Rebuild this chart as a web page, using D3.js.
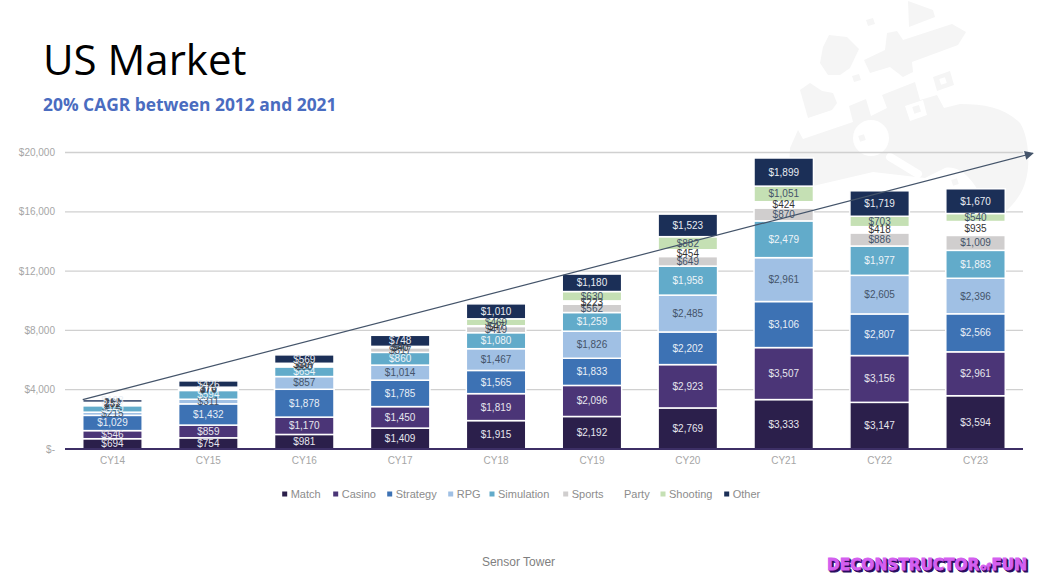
<!DOCTYPE html>
<html><head><meta charset="utf-8">
<script src="https://cdn.jsdelivr.net/npm/d3@7/dist/d3.min.js"></script>
<style>html,body{margin:0;padding:0;background:#fff}svg{display:block}</style>
</head><body><svg id="c" width="1040" height="583"></svg>
<script>
const categories=["CY14","CY15","CY16","CY17","CY18","CY19","CY20","CY21","CY22","CY23"];
const seriesNames=["Match","Casino","Strategy","RPG","Simulation","Sports","Party","Shooting","Other"];
const match=[694,754,981,1409,1915,2192,2769,3333,3147,3594];
const casino=[546,859,1170,1450,1819,2096,2923,3507,3156,2961];
const strategy=[1029,1432,1878,1785,1565,1833,2202,3106,2807,2566];
const rpg=[215,311,857,1014,1467,1826,2485,2961,2605,2396];
const simulation=[440,594,654,860,1080,1259,1958,2479,1977,1883];
const sports=[72,76,80,317,419,562,649,870,886,1009];
const party=[82,70,107,40,47,223,454,424,418,935];
const shooting=[69,73,54,47,469,630,882,1051,703,540];
const other=[193,426,569,748,1010,1180,1523,1899,1719,1670];
const tickValues=[0,4000,8000,12000,16000,20000];
const tickLabels=["$-","$4,000","$8,000","$12,000","$16,000","$20,000"];
const trendValues=[3330,19950];
const seriesValues=[match,casino,strategy,rpg,simulation,sports,party,shooting,other];
const colors=["#2b1f4b","#4b3577","#3d72b4","#a0c0e4","#62abca","#d0cece","#ffffff","#c5e0b4","#1b2f57"];
const labelColors=["#e6e6ee","#e6e6ee","#e8eef6","#44546a","#eef4f8","#44546a","#333333","#44546a","#e8ecf2"];

const svg=d3.select("#c");
const font="'Liberation Sans',Arial,sans-serif";
const wmGrey="#f5f5f5";
const wm=svg.append("g").attr("fill",wmGrey);
[
"M908,1 L933,10 L935,17 L909,27 Z",
"M829,35 L847,37 L859,49 L850,68 L840,75 L828,75 L820,63 L823,47 Z",
"M887,33 L897,31 L903,40 L952,24 L966,32 L958,45 L912,62 L913,72 L903,77 L890,67 L870,73 L864,60 L885,50 Z",
"M866,20 L873,18 L875,24 L868,26 Z",
"M852,76 L859,74 L861,80 L854,82 Z",
"M800,90 L810,83 L822,91 L833,93 L837,103 L832,110 L808,118 Z",
"M933,77 L950,71 L954,85 L937,91 Z",
"M790,148 L798,130 L803,139 L853,122 L849,106 L866,99 L871,116 L887,108 L882,95 L915,82 L920,100 L937,95 L944,108 L960,104 C985,104 1005,108 1020,123 C1028,135 1030,160 1027,175 C1024,192 1015,203 1005,212 L985,205 C975,180 960,165 945,168 L925,178 L873,172 L813,186 L788,186 Z"
].forEach(d=>wm.append("path").attr("d",d));
wm.append("rect").attr("x",940).attr("y",78).attr("width",6).attr("height",6).attr("fill","#fff").attr("transform","rotate(-18 943 81)");
wm.append("path").attr("d","M905,106 L923,100 L927,115 L910,121 Z").attr("fill","#fff");
wm.append("rect").attr("x",913).attr("y",106).attr("width",7).attr("height",7).attr("transform","rotate(-18 916 109)");
wm.append("circle").attr("cx",871).attr("cy",138).attr("r",18).attr("fill","#fff");
wm.append("rect").attr("x",859).attr("y",135).attr("width",6).attr("height",6).attr("transform","rotate(-18 862 138)");
wm.append("line").attr("x1",890).attr("y1",157).attr("x2",918).attr("y2",174).attr("stroke","#fff").attr("stroke-width",8).attr("stroke-linecap","round");
wm.append("rect").attr("x",952).attr("y",179).attr("width",6).attr("height",6).attr("transform","rotate(-18 955 182)");

const x=d3.scaleBand().domain(categories).range([65,1023]).paddingInner(0.38).paddingOuter(0.185);
const y=d3.scaleLinear().domain([0,20000]).range([449,152.5]);

// gridlines
svg.append("g").selectAll("line").data(tickValues.slice(1)).join("line")
 .attr("x1",65).attr("x2",1023).attr("y1",d=>y(d)).attr("y2",d=>y(d))
 .attr("stroke","#d0d0d0").attr("stroke-width",1.3);

// tick labels
svg.append("g").selectAll("text").data(tickValues).join("text")
 .attr("x",55).attr("y",d=>y(d)+3.5).attr("text-anchor","end")
 .attr("font-family",font).attr("font-size",10).attr("fill","#a6a6a6")
 .text((d,i)=>tickLabels[i]);
svg.append("g").selectAll("text").data(categories).join("text")
 .attr("x",d=>x(d)+x.bandwidth()/2).attr("y",464).attr("text-anchor","middle")
 .attr("font-family",font).attr("font-size",10).attr("fill","#a6a6a6").text(d=>d);

// stacks
const rows=categories.map((c,i)=>{const r={cat:c};seriesNames.forEach((s,k)=>r[s]=seriesValues[k][i]);return r;});
const stack=d3.stack().keys(seriesNames)(rows);
const layers=svg.append("g").selectAll("g").data(stack).join("g");
layers.selectAll("rect").data(d=>d).join("rect")
 .attr("x",d=>x(d.data.cat)).attr("width",x.bandwidth())
 .attr("y",d=>y(d[1])).attr("height",d=>y(d[0])-y(d[1]))
 .attr("fill",function(){return colors[seriesNames.indexOf(d3.select(this.parentNode).datum().key)];})
 .attr("stroke","#fff").attr("stroke-width",1.5);

// baseline
svg.append("line").attr("x1",65).attr("x2",1023).attr("y1",y(0)).attr("y2",y(0))
 .attr("stroke","#3d2f66").attr("stroke-width",2);

// value labels
stack.forEach((l,k)=>{
 svg.append("g").selectAll("text").data(l).join("text")
  .attr("x",d=>x(d.data.cat)+x.bandwidth()/2).attr("y",d=>(y(d[0])+y(d[1]))/2+3.5)
  .attr("text-anchor","middle").attr("font-family",font).attr("font-size",10)
  .attr("fill",labelColors[k]).text(d=>"$"+d3.format(",")(d[1]-d[0]));
});

// CAGR trend arrow
const tx=d3.scaleLinear().domain([0,1]).range([x(categories[0]),1033]);
const lg=d3.line().x((d,i)=>tx(i)).y(d=>y(d));
const defs=svg.append("defs");
defs.append("marker").attr("id","ah").attr("viewBox","0 0 10 10").attr("refX",9).attr("refY",5)
 .attr("markerWidth",11).attr("markerHeight",9).attr("markerUnits","userSpaceOnUse").attr("orient","auto")
 .append("path").attr("d","M0,0 L10,5 L0,10 Z").attr("fill","#44546a");
svg.append("path").attr("d",lg(trendValues)).attr("fill","none").attr("stroke","#44546a")
 .attr("stroke-width",1.2).attr("marker-end","url(#ah)");

// legend
const legendTextX=[290.7,341.7,395.7,456.7,498,571.7,624,669,732.7];
const leg=svg.append("g").selectAll("g").data(seriesNames).join("g");
leg.append("rect").attr("x",(d,i)=>legendTextX[i]-8.5).attr("y",491.5).attr("width",5).attr("height",5)
 .attr("fill",(d,i)=>colors[i]);
leg.append("text").attr("x",(d,i)=>legendTextX[i]).attr("y",498.3).attr("font-family",font)
 .attr("font-size",11).attr("fill","#8c8c8c").text(d=>d);

// titles
svg.append("text").attr("x",43).attr("y",75).attr("font-family","'Open Sans',sans-serif").attr("font-size",42).attr("fill","#000").text("US Market");
svg.append("text").attr("x",43).attr("y",111).attr("font-family","'Open Sans',sans-serif").attr("font-weight",700).attr("font-size",17.4).attr("fill","#4a6cc0").text("20% CAGR between 2012 and 2021");
svg.append("text").attr("x",518.5).attr("y",566).attr("text-anchor","middle").attr("font-family",font).attr("font-size",12).attr("fill","#7f7f7f").text("Sensor Tower");

// logo
const logo=svg.append("g").attr("font-family","'DejaVu Sans',sans-serif").attr("font-weight",700);
[[2,2,"#2a0a5e"],[1,1,"#2a0a5e"],[0,0,"#d45ff0"]].forEach(([dx,dy,col])=>{
 const t=logo.append("text").attr("x",827+dx).attr("y",570+dy).attr("fill",col).attr("stroke",col).attr("stroke-width",0.8).attr("font-size",15.3);
 t.append("tspan").text("DECONSTRUCTOR");
 t.append("tspan").attr("font-size",9).attr("dx",1).text("of");
 t.append("tspan").attr("dx",1).text("FUN");
});
</script></body></html>
